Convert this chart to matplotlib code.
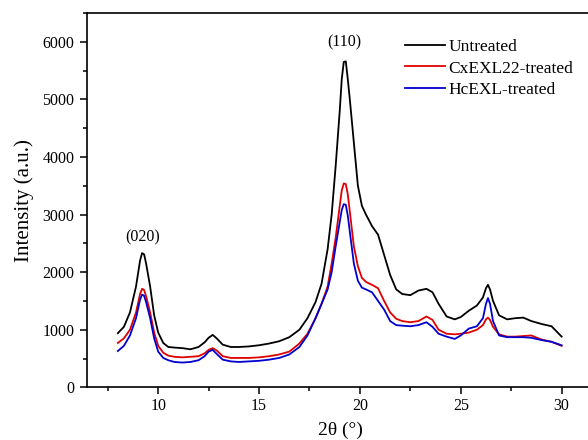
import matplotlib
matplotlib.use("Agg")
import matplotlib.pyplot as plt
from matplotlib.ticker import MultipleLocator

two_theta = [8.0, 8.3, 8.6, 8.9, 9.1, 9.2, 9.3, 9.4, 9.6, 9.8, 10.0, 10.25, 10.5, 10.8, 11.2,
             11.6, 12.0, 12.3, 12.5, 12.7, 12.9, 13.2, 13.6, 14.0, 14.5, 15.0, 15.5, 16.0, 16.5,
             17.0, 17.4, 17.8, 18.1, 18.4, 18.6, 18.8, 19.0, 19.1, 19.2, 19.3, 19.4, 19.5, 19.7,
             19.9, 20.1, 20.3, 20.6, 20.9, 21.2, 21.5, 21.8, 22.1, 22.5, 22.9, 23.3, 23.6, 23.9,
             24.3, 24.7, 25.0, 25.4, 25.8, 26.1, 26.25, 26.35, 26.45, 26.6, 26.9, 27.3, 27.7,
             28.1, 28.5, 29.0, 29.5, 30.0]

untreated = [940, 1050, 1300, 1750, 2200, 2330, 2310, 2150, 1750, 1250, 950, 770, 700, 690, 680,
             660, 700, 780, 860, 910, 850, 740, 700, 700, 710, 730, 760, 800, 870,
             1000, 1200, 1480, 1800, 2400, 3000, 3850, 4800, 5350, 5650, 5660, 5350, 5000, 4250,
             3500, 3150, 3000, 2800, 2650, 2300, 1950, 1700, 1620, 1600, 1680, 1710, 1650, 1450,
             1230, 1180, 1220, 1330, 1420, 1560, 1720, 1780, 1700, 1500, 1250, 1180, 1200,
             1210, 1150, 1100, 1060, 880]

cxexl22 = [770, 850, 1000, 1300, 1620, 1710, 1690, 1580, 1300, 950, 720, 600, 550, 530, 520,
           530, 540, 590, 650, 680, 640, 540, 510, 510, 510, 520, 540, 570, 620,
           760, 930, 1200, 1450, 1750, 2150, 2600, 3150, 3420, 3540, 3530, 3350, 3050, 2450,
           2100, 1900, 1830, 1780, 1720, 1500, 1300, 1190, 1150, 1130, 1150, 1230, 1170, 1000,
           930, 920, 930, 950, 1000, 1080, 1180, 1210, 1170, 1050, 920, 880, 880,
           890, 900, 830, 790, 720]

hcexl = [630, 720, 900, 1200, 1520, 1610, 1590, 1480, 1200, 850, 620, 510, 470, 440, 430,
         440, 470, 540, 620, 650, 580, 480, 450, 440, 450, 460, 480, 510, 570,
         700, 900, 1200, 1450, 1700, 2000, 2450, 2870, 3080, 3180, 3170, 2980, 2700, 2150,
         1850, 1730, 1700, 1650, 1500, 1350, 1150, 1080, 1070, 1060, 1080, 1130, 1050, 930,
         880, 840, 900, 1020, 1060, 1200, 1450, 1550, 1450, 1150, 900, 870, 870,
         870, 860, 820, 790, 730]

series_names = ["Untreated", "CxEXL22-treated", "HcEXL-treated"]
series_colors = ["black", "#e00000", "#0000d0"]
peak_labels = ["(020)", "(110)"]
peak_pos = [(9.25, 2600), (19.25, 5990)]

plt.rcParams['font.family'] = ['Liberation Serif', 'DejaVu Serif']

fig = plt.figure(figsize=(5.88, 4.4), dpi=100)
ax = fig.add_axes([87/588, 1 - 387.3/440, (588 - 87)/588 + 0.01, (387.3 - 13)/440])

for ys, name, c in zip([untreated, cxexl22, hcexl], series_names, series_colors):
    ax.plot(two_theta, ys, color=c, lw=1.3, label=name)

for lab, (px, py) in zip(peak_labels, peak_pos):
    ax.text(px, py, lab, ha='center', va='center', fontsize=11.5)

ax.set_xlim(6.47, 31.6)
ax.set_ylim(0, 6500)
ax.xaxis.set_major_locator(MultipleLocator(5))
ax.xaxis.set_minor_locator(MultipleLocator(2.5))
ax.yaxis.set_major_locator(MultipleLocator(1000))
ax.yaxis.set_minor_locator(MultipleLocator(500))
ax.tick_params(which='both', direction='out', width=1.1, labelsize=11.5)
ax.tick_params(which='major', length=5)
ax.tick_params(which='minor', length=3)
ax.tick_params(axis='x', pad=3)
ax.tick_params(axis='y', pad=4)
ax.spines['right'].set_visible(False)
for s in ['left', 'bottom', 'top']:
    ax.spines[s].set_linewidth(1.2)

ax.set_xlabel("2θ (°)", fontsize=14, labelpad=5)
ax.set_ylabel("Intensity (a.u.)", fontsize=15, labelpad=6)

ax.legend(loc='upper left', bbox_to_anchor=(405/588, 1 - 39/440), bbox_transform=fig.transFigure,
          frameon=False, fontsize=12.5, handlelength=2.3, handletextpad=0.2, labelspacing=0.3,
          borderaxespad=0, borderpad=0)

fig.savefig("out.png", dpi=100)
